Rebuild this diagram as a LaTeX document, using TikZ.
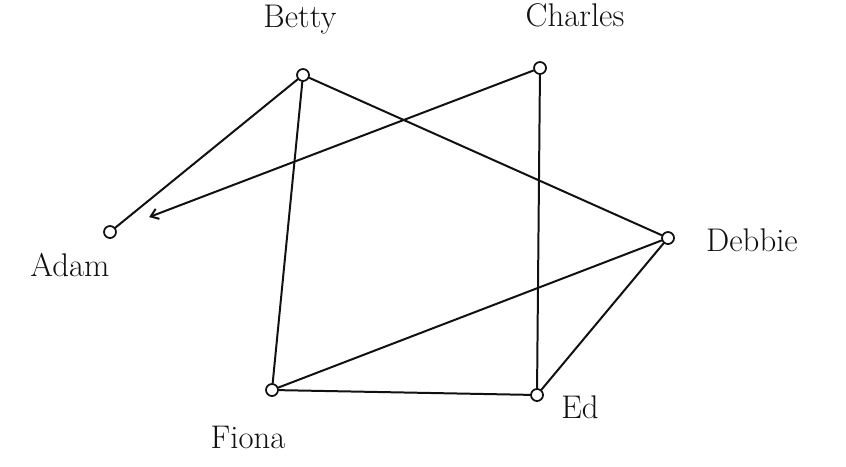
\documentclass[tikz,border=0pt]{standalone}
\usepackage{tikz}
\usetikzlibrary{arrows.meta,positioning}
\definecolor{InkBlack}{HTML}{111111}

\begin{document}
\begin{tikzpicture}[
  x=0.03cm,
  y=-0.03cm,
  >=Latex,
  person/.style={circle,draw=InkBlack,line width=1.5pt,minimum size=3.6mm,inner sep=0pt,fill=white},
  personname/.style={font=\fontsize{28}{32}\selectfont,text=InkBlack,inner sep=1pt},
  tie/.style={draw=InkBlack,line width=1.7pt,line cap=round},
  tie end/.style={tie,shorten >=1.05cm,-{Straight Barb[length=2.2mm,width=3.2mm]}}
]
  \useasboundingbox (0,0) rectangle (846,466);

  \node[person] (betty) at (303,75) {};
  \node[person] (charles) at (540,68) {};
  \node[person] (adam) at (110,232) {};
  \node[person] (debbie) at (668,238) {};
  \node[person] (fiona) at (272,390) {};
  \node[person] (ed) at (537,395) {};

  \node[personname] (bettyname) at (300,20) {Betty};
  \node[personname] (charlesname) at (575,15) {Charles};
  \node[personname] (adamname) at (70,265) {Adam};
  \node[personname] (debbiename) at (752,240) {Debbie};
  \node[personname] (fionaname) at (248,437) {Fiona};
  \node[personname] (edname) at (580,407) {Ed};

  \draw[tie] (betty) -- (adam);
  \draw[tie end] (charles) -- (adam);
  \draw[tie] (betty) -- (debbie);
  \draw[tie] (betty) -- (fiona);
  \draw[tie] (charles) -- (ed);
  \draw[tie] (debbie) -- (fiona);
  \draw[tie] (debbie) -- (ed);
  \draw[tie] (fiona) -- (ed);
\end{tikzpicture}
\end{document}
